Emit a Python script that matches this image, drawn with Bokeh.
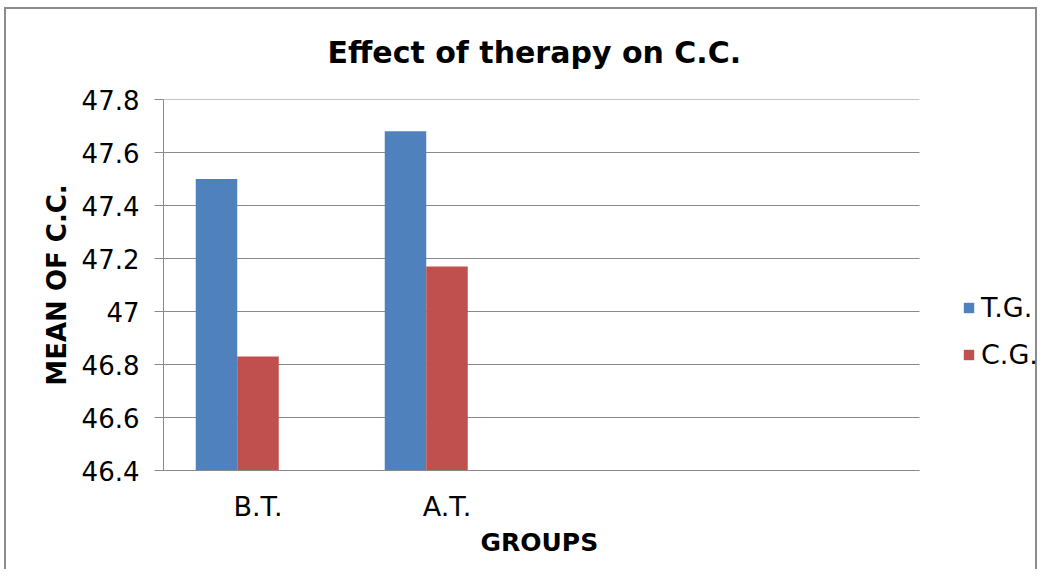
from bokeh.plotting import figure
from bokeh.models import Range1d, FixedTicker, Legend, LegendItem, ColumnDataSource, NumeralTickFormatter, Title
from bokeh.transform import dodge
from bokeh.embed import file_html
from bokeh.resources import INLINE

groups = ["B.T.", "A.T.", "", ""]          # category slots (last two empty)
series = ["T.G.", "C.G."]
tg_values = [47.5, 47.68]
cg_values = [46.83, 47.17]
y_ticks = [46.4, 46.6, 46.8, 47.0, 47.2, 47.4, 47.6, 47.8]
colors = ["#4F81BD", "#C0504D"]
title_text = "Effect of therapy on C.C."

FONT = "DejaVu Sans"
GRAY = "#8a8a8a"

N_SLOTS = len(groups)
X_VIEW_END = 876 / 189.0   # extra room right of the axis for the legend

x_pos = [i + 0.5 for i in range(len(tg_values))]
source = ColumnDataSource(dict(x=x_pos, tg=tg_values, cg=cg_values))
grid_src = ColumnDataSource(dict(y=y_ticks, x0=[0] * len(y_ticks), x1=[N_SLOTS] * len(y_ticks)))

p = figure(width=1033, height=562,
           x_range=Range1d(0, X_VIEW_END),
           y_range=Range1d(y_ticks[0], y_ticks[-1]),
           output_backend="svg", toolbar_location=None, title_location=None,
           min_border_left=157, min_border_right=0,
           min_border_top=90, min_border_bottom=101)
p.styles = {"border-top": "2px solid #8c8c8c", "border-left": "2px solid #8c8c8c",
            "border-right": "2px solid #8c8c8c", "margin-left": "4px", "margin-top": "7px"}

p.segment(x0="x0", x1="x1", y0="y", y1="y", source=grid_src, line_color=GRAY,
          line_width=1, level="underlay")

bw = 0.2196
r1 = p.vbar(x=dodge("x", -bw, range=p.x_range), top="tg", bottom=y_ticks[0],
            width=bw, source=source, fill_color=colors[0], line_color=None)
r2 = p.vbar(x=dodge("x", 0, range=p.x_range), top="cg", bottom=y_ticks[0],
            width=bw, source=source, fill_color=colors[1], line_color=None)

spacer = Title(text=" ", text_font_size="1px", standoff=4)
p.add_layout(spacer, "above")
main_title = Title(text=title_text, align="left", offset=164, text_font=FONT,
                   text_font_size="30px", text_font_style="bold", text_color="black",
                   standoff=46)
p.add_layout(main_title, "above")

p.outline_line_color = None
p.background_fill_color = "white"
p.border_fill_color = "white"

p.xgrid.grid_line_color = None
p.ygrid.grid_line_color = None

p.yaxis.ticker = FixedTicker(ticks=y_ticks)
p.yaxis.formatter = NumeralTickFormatter(format="0.[0]")
p.yaxis.axis_label = "MEAN OF C.C."
p.yaxis.axis_label_text_font = FONT
p.yaxis.axis_label_text_font_size = "26px"
p.yaxis.axis_label_text_font_style = "bold"
p.yaxis.axis_label_text_color = "black"
p.yaxis.axis_label_standoff = 7
p.yaxis.major_label_text_font = FONT
p.yaxis.major_label_text_font_size = "26px"
p.yaxis.major_label_text_color = "black"
p.yaxis.major_label_standoff = 15
p.yaxis.major_tick_out = 9
p.yaxis.major_tick_in = 0
p.yaxis.minor_tick_line_color = None
p.yaxis.axis_line_color = GRAY
p.yaxis.major_tick_line_color = GRAY

x_ticks = [i + 0.5 for i in range(len(tg_values))]
p.xaxis.ticker = FixedTicker(ticks=x_ticks)
p.xaxis.bounds = (0, N_SLOTS)
p.xaxis.major_label_overrides = {x: g for x, g in zip(x_ticks, groups)}
p.xaxis.major_label_text_font = FONT
p.xaxis.major_label_text_font_size = "27px"
p.xaxis.major_label_text_color = "black"
p.xaxis.major_label_standoff = 20
p.xaxis.major_tick_out = 0
p.xaxis.major_tick_in = 0
p.xaxis.minor_tick_line_color = None
p.xaxis.axis_line_color = GRAY

xlabel = Title(text="GROUPS", align="left", offset=317, text_font=FONT,
               text_font_size="25px", text_font_style="bold", text_color="black",
               standoff=2)
p.add_layout(xlabel, "below")

legend = Legend(items=[LegendItem(label=series[0], renderers=[r1]),
                       LegendItem(label=series[1], renderers=[r2])],
                location=(799, 100))
legend.border_line_color = None
legend.background_fill_alpha = 0
legend.padding = 0
legend.margin = 0
legend.glyph_width = 13
legend.glyph_height = 13
legend.label_height = 30
legend.spacing = 16
legend.label_standoff = 6
legend.label_text_font = FONT
legend.label_text_font_size = "27px"
legend.label_text_color = "black"
p.add_layout(legend)

open("out.html", "w").write(file_html(p, INLINE))
